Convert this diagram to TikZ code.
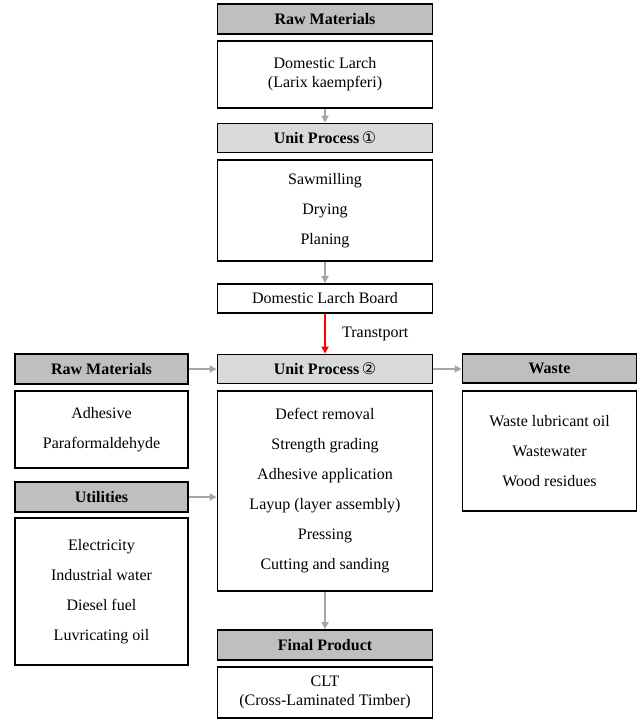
\documentclass[tikz,border=0pt]{standalone}
\usepackage{fontspec}
\setmainfont{Liberation Serif}
\newfontfamily\symfont{DejaVu Sans}
\usetikzlibrary{arrows.meta}
\definecolor{hdrdark}{HTML}{BFBFBF}
\definecolor{hdrlight}{HTML}{D9D9D9}
\definecolor{arrgray}{HTML}{A6A6A6}
\tikzset{
  box/.style={draw=black, line width=1.8pt, fill=white, inner sep=0pt, align=center, font=\fontsize{16}{30}\selectfont},
  box2/.style={box, font=\fontsize{16}{19}\selectfont},
  hdr/.style={draw=black, line width=1.8pt, fill=hdrdark, inner sep=0pt, align=center, font=\fontsize{16}{19}\selectfont\bfseries},
  hdrl/.style={hdr, fill=hdrlight},
  garrow/.style={draw=arrgray, line width=1.8pt, -{Triangle[length=7pt,width=7pt]}},
  rarrow/.style={draw=red, line width=1.8pt, -{Triangle[length=7pt,width=7pt]}},
}
\begin{document}
\begin{tikzpicture}[x=1pt,y=-1pt]
\useasboundingbox (0,0) rectangle (641,720);
% center column
\node[hdr, minimum width=215pt, minimum height=29.5pt] (rm1) at (325,19) {Raw Materials};
\node[box2, minimum width=215pt, minimum height=67pt] (larch) at (325,74.5) {Domestic Larch\\(Larix kaempferi)};
\node[hdrl, minimum width=215pt, minimum height=29pt] (up1) at (325,138) {Unit Process\,{\symfont\mdseries ①}};
\node[box, minimum width=215pt, minimum height=101pt] (saw) at (325,210.5) {Sawmilling\\Drying\\Planing};
\node[box, minimum width=215pt, minimum height=29pt] (dlb) at (325,298.5) {Domestic Larch Board};
\node[hdrl, minimum width=215pt, minimum height=29pt] (up2) at (325,369) {Unit Process\,{\symfont\mdseries ②}};
\node[box, minimum width=215pt, minimum height=200pt] (proc) at (325,491) {Defect removal\\Strength grading\\Adhesive application\\Layup (layer assembly)\\Pressing\\Cutting and sanding};
\node[hdr, minimum width=215pt, minimum height=30pt] (fp) at (325,645) {Final Product};
\node[box2, minimum width=215pt, minimum height=51pt] (clt) at (325,692.5) {CLT\\(Cross-Laminated Timber)};
% left column
\node[hdr, minimum width=173pt, minimum height=30pt] (rmL) at (101.5,369) {Raw Materials};
\node[box, minimum width=173pt, minimum height=77pt] (adh) at (101.5,429.5) {Adhesive\\Paraformaldehyde};
\node[hdr, minimum width=173pt, minimum height=30pt] (util) at (101.5,497) {Utilities};
\node[box, minimum width=173pt, minimum height=147pt] (utilbox) at (101.5,591.5) {Electricity\\Industrial water\\Diesel fuel\\Luvricating oil};
% right column
\node[hdr, minimum width=174pt, minimum height=29pt] (waste) at (549.5,368.5) {Waste};
\node[box, minimum width=174pt, minimum height=120pt] (wastebox) at (549.5,451) {Waste lubricant oil\\Wastewater\\Wood residues};
% arrows
\draw[garrow] (larch.south) -- (up1.north);
\draw[garrow] (saw.south) -- (dlb.north);
\draw[rarrow] (dlb.south) -- (up2.north);
\node[anchor=west, inner sep=0pt, font=\fontsize{16}{19}\selectfont] (tr) at (342,334) {Transtport};
\draw[garrow] (proc.south) -- (fp.north);
\draw[garrow] (rmL.east) -- (up2.west);
\draw[garrow] (util.east) -- (util.east -| proc.west);
\draw[garrow] (up2.east) -- (waste.west |- up2.east);
\end{tikzpicture}
\end{document}
